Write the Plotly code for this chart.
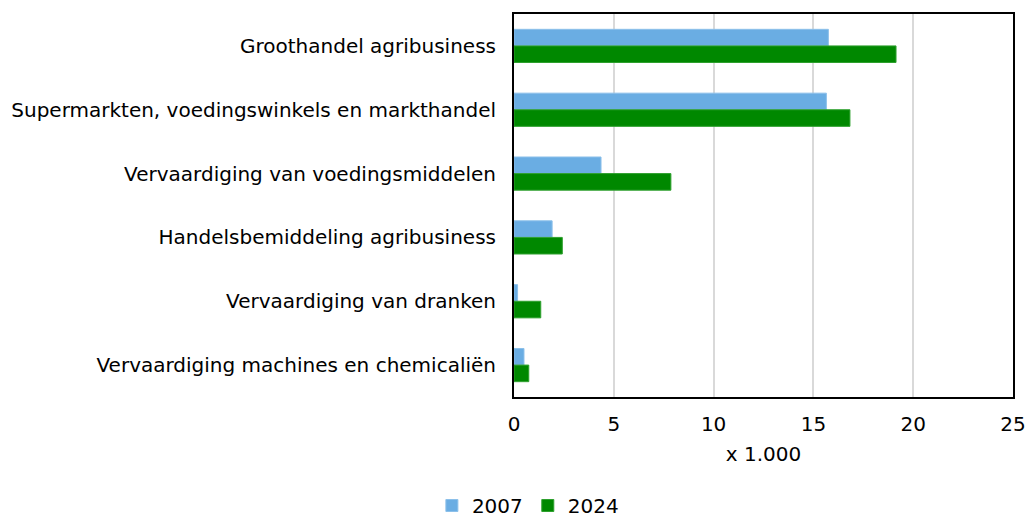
import plotly.graph_objects as go

categories = [
    "Groothandel agribusiness",
    "Supermarkten, voedingswinkels en markthandel",
    "Vervaardiging van voedingsmiddelen",
    "Handelsbemiddeling agribusiness",
    "Vervaardiging van dranken",
    "Vervaardiging machines en chemicaliën",
]
values_2007 = [15.75, 15.65, 4.36, 1.91, 0.18, 0.50]
values_2024 = [19.14, 16.83, 7.86, 2.42, 1.34, 0.74]
x_ticks = [0, 5, 10, 15, 20, 25]

FONT = "Verdana, DejaVu Sans, sans-serif"

fig = go.Figure()
fig.add_trace(go.Bar(
    name="2007", y=categories, x=values_2007, orientation="h",
    marker=dict(color="#6AADE3", line=dict(color="#8CC0EA", width=1)),
))
fig.add_trace(go.Bar(
    name="2024", y=categories, x=values_2024, orientation="h",
    marker=dict(color="#008800", line=dict(color="#2EA02E", width=1)),
))

fig.update_layout(
    width=1025, height=525,
    barmode="group", bargap=0.48, bargroupgap=0,
    plot_bgcolor="white", paper_bgcolor="white",
    margin=dict(l=514, r=12, t=14, b=128),
    font=dict(family=FONT, size=20, color="#000000"),
    showlegend=True,
    legend=dict(
        orientation="h", xref="container", yref="container",
        x=0.515, xanchor="center", y=0.0, yanchor="bottom",
        font=dict(size=20), itemwidth=30, tracegroupgap=0,
        borderwidth=0, bgcolor="rgba(0,0,0,0)",
    ),
)
fig.update_xaxes(
    range=[0, 25], tickvals=x_ticks, ticks="", automargin=False,
    ticklabeloverflow="allow",
    showgrid=True, gridcolor="#D9D9D9", gridwidth=2,
    showline=True, linecolor="black", linewidth=2, mirror=True,
    zeroline=False, ticklabelstandoff=8,
    title=dict(text="x 1.000", font=dict(size=20), standoff=12),
    tickfont=dict(size=20),
)
fig.update_yaxes(
    autorange="reversed", ticks="", ticklabelstandoff=12, automargin=False,
    showline=True, linecolor="black", linewidth=2, mirror=True,
    showgrid=False, tickfont=dict(size=20),
)

fig.write_html("out.html")
